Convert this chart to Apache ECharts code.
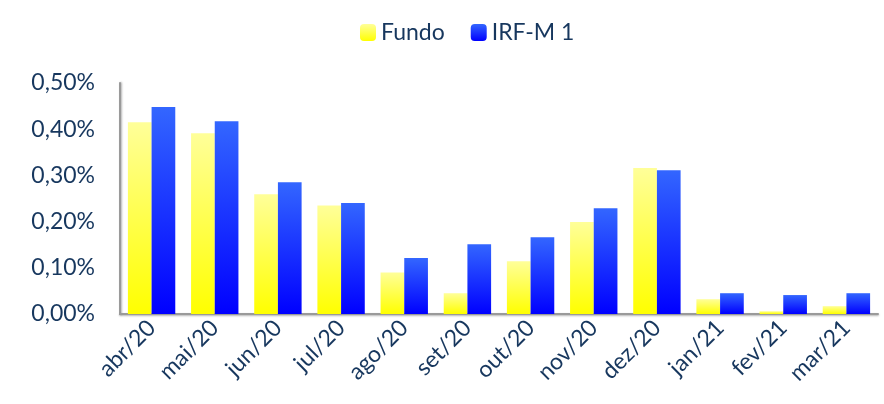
<!DOCTYPE html>
<html><head><meta charset="utf-8">
<script src="https://cdn.jsdelivr.net/npm/echarts@6/dist/echarts.min.js"></script>
<style>html,body{margin:0;padding:0;background:#fff}#c{width:884px;height:404px}</style>
</head><body><div id="c"></div>
<script>
const categories = ['abr/20','mai/20','jun/20','jul/20','ago/20','set/20','out/20','nov/20','dez/20','jan/21','fev/21','mar/21'];
const fundo = [0.415,0.391,0.259,0.235,0.090,0.045,0.114,0.199,0.316,0.032,0.006,0.017];
const irfm1 = [0.448,0.417,0.285,0.240,0.121,0.151,0.166,0.229,0.311,0.045,0.041,0.045];
const yTicks = [0,0.1,0.2,0.3,0.4,0.5];

const txt = '#17375E';
const font = 'Lato';
const chart = echarts.init(document.getElementById('c'));
chart.setOption({
  animation:false,
  legend:{
    top:16, left:355, itemWidth:16, itemHeight:17, itemGap:26,
    textStyle:{color:txt, fontSize:23, fontFamily:font},
    data:['Fundo','IRF-M 1']
  },
  grid:{left:120, right:6, top:83, bottom:90, containLabel:false},
  xAxis:{
    type:'category', data:categories,
    axisLine:{lineStyle:{color:'#9a9a9a', width:2, shadowColor:'rgba(0,0,0,0.3)', shadowOffsetY:1, shadowBlur:2}},
    axisTick:{show:false},
    axisLabel:{rotate:45, color:txt, fontSize:23, fontFamily:font, margin:10, interval:0}
  },
  yAxis:{
    type:'value', min:0, max:0.5, interval:0.1,
    axisLine:{show:true, lineStyle:{color:'#9a9a9a', width:2, shadowColor:'rgba(0,0,0,0.3)', shadowOffsetX:1, shadowBlur:2}},
    axisTick:{show:false},
    splitLine:{show:false},
    axisLabel:{color:txt, fontSize:23, fontFamily:font, margin:25,
      formatter:v=>v.toFixed(2).replace('.',',')+'%'}
  },
  series:[
    {name:'Fundo', type:'bar', data:fundo, barGap:'0%', barCategoryGap:'25%',
     itemStyle:{color:new echarts.graphic.LinearGradient(0,0,0,1,[{offset:0,color:'#FFFF99'},{offset:1,color:'#FFFF00'}])}},
    {name:'IRF-M 1', type:'bar', data:irfm1, barGap:'0%', barCategoryGap:'25%',
     itemStyle:{color:new echarts.graphic.LinearGradient(0,0,0,1,[{offset:0,color:'#3366FF'},{offset:1,color:'#0000FF'}])}}
  ]
});
</script></body></html>
